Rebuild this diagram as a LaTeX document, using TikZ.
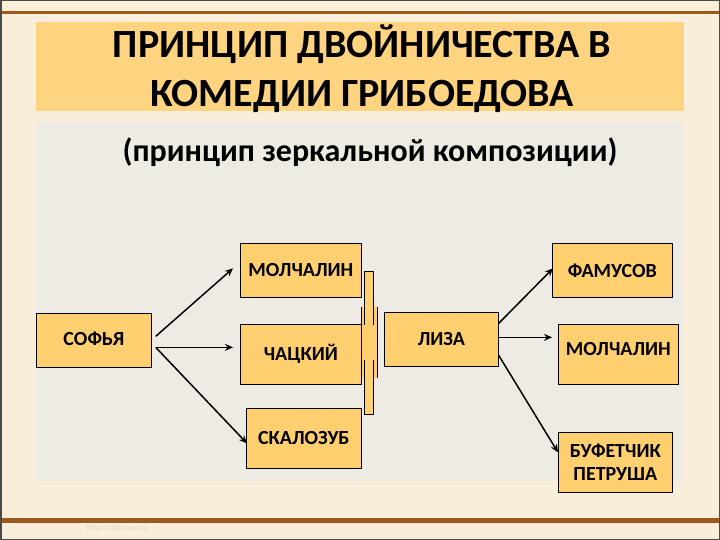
\documentclass[tikz,border=0pt]{standalone}
\usepackage{fontspec}
\setmainfont{Carlito}
\usetikzlibrary{arrows.meta,calc}
\definecolor{bgcream}{HTML}{F8EEDA}
\definecolor{panel}{HTML}{EDEBE3}
\definecolor{boxfill}{HTML}{FFCF70}
\definecolor{titlefill}{HTML}{FFD480}
\definecolor{brown}{HTML}{9C5A1E}
\definecolor{frame}{HTML}{4A4A48}
\tikzset{
  pbox/.style={draw=black, line width=0.7pt, fill=boxfill, anchor=north west, inner sep=0pt,
     font=\fontsize{20}{23}\selectfont\bfseries, align=center},
  arr/.style={line width=1.5pt, -{Stealth[length=8pt,width=7pt]}},
  mirror/.style={draw=black, line width=0.6pt, fill=boxfill}
}
\begin{document}
\begin{tikzpicture}[x=1pt,y=-1pt]
\useasboundingbox (0,0) rectangle (720,540);
% background
\fill[bgcream] (0,0) rectangle (720,540);
\fill[brown] (0,11) rectangle (720,14);
\fill[brown] (0,518) rectangle (720,523);
\draw[frame, line width=3pt] (0,0) rectangle (720,540);
% title
\fill[titlefill] (36,22) rectangle (684,111);
\node[font=\fontsize{40}{49}\selectfont\bfseries, align=center] (title) at (362,69)
  {ПРИНЦИП ДВОЙНИЧЕСТВА В\\КОМЕДИИ ГРИБОЕДОВА};
% panel
\fill[panel] (36,122) rectangle (684,481);
\node[font=\fontsize{32}{35}\selectfont\bfseries] (sub) at (370,152) {(принцип зеркальной композиции)};
% boxes
\node[pbox, minimum width=115pt, minimum height=54pt] (sofia) at (36,313) {\raisebox{4pt}{СОФЬЯ}};
\node[pbox, minimum width=121pt, minimum height=54pt] (molch) at (240,243) {\raisebox{-2pt}{МОЛЧАЛИН}};
\node[pbox, minimum width=121pt, minimum height=60pt] (chat) at (240,324) {\raisebox{-3pt}{ЧАЦКИЙ}};
\node[pbox, minimum width=115pt, minimum height=60pt] (skal) at (246,408) {\raisebox{-2pt}{СКАЛОЗУБ}};
% mirror
\path[mirror] (364.5,271) rectangle (373.5,414);
\fill[boxfill] (361,307) rectangle (377,378);
\draw[black, line width=0.9pt] (361,307) -- (361,378) (377,307) -- (377,378);
\draw[black, line width=0.5pt] (364.5,307) -- (364.5,325) (373.5,307) -- (373.5,325)
  (364.5,360) -- (364.5,378) (373.5,360) -- (373.5,378);
\node[pbox, minimum width=114pt, minimum height=54pt] (liza) at (384,312) {ЛИЗА};
\node[pbox, minimum width=120pt, minimum height=54pt] (famus) at (552,243) {\raisebox{-2pt}{ФАМУСОВ}};
\node[pbox, minimum width=120pt, minimum height=60pt] (molch2) at (558,324) {\raisebox{11pt}{МОЛЧАЛИН}};
\node[pbox, minimum width=114pt, minimum height=60pt] (buf) at (558,432) {БУФЕТЧИК\\ПЕТРУША};
% arrows
\draw[arr] ([xshift=4pt,yshift=4pt]sofia.east) -- ([xshift=-7pt,yshift=2pt]molch.west);
\draw[arr] ([xshift=4pt,yshift=-7pt]sofia.east) -- ([xshift=-7pt,yshift=7pt]chat.west);
\draw[arr] ([xshift=4pt,yshift=-7pt]sofia.east) -- ([xshift=1pt,yshift=-5pt]skal.west);
\draw[arr] ([yshift=16pt]liza.east) -- ([xshift=1pt,yshift=2pt]famus.west);
\draw[arr] ([yshift=2pt]liza.east) -- ([xshift=-6pt,yshift=17pt]molch2.west);
\draw[arr] ([yshift=-16pt]liza.east) -- ([xshift=0pt,yshift=10pt]buf.west);
% watermark
\node[font=\fontsize{8}{9}\selectfont, text=bgcream!80!black!60] (wm) at (117,528) {http://aida.ucoz.ru};
\end{tikzpicture}
\end{document}
